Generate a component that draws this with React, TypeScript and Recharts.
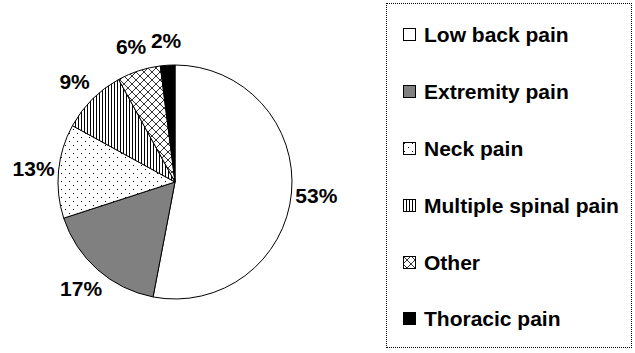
import { PieChart, Pie, Cell, Legend } from "recharts";

const names = [
  "Low back pain",
  "Extremity pain",
  "Neck pain",
  "Multiple spinal pain",
  "Other",
  "Thoracic pain",
];
const values = [53, 17, 13, 9, 6, 2];
const fills = [
  "#ffffff",
  "#808080",
  "url(#dots)",
  "url(#vlines)",
  "url(#cross)",
  "#000000",
];

const data = names.map((name, i) => ({ name, value: values[i] }));

const RADIAN = Math.PI / 180;
const font = "'Liberation Sans', Arial, sans-serif";

const renderLabel = (props: any) => {
  const { cx, cy, midAngle, value } = props;
  const r = 142;
  const x = cx + r * Math.cos(-midAngle * RADIAN);
  const y = cy + r * Math.sin(-midAngle * RADIAN);
  return (
    <text
      x={x}
      y={y}
      textAnchor="middle"
      dominantBaseline="central"
      fontFamily={font}
      fontWeight="bold"
      fontSize={21}
      fill="#000"
    >
      {`${value}%`}
    </text>
  );
};

const renderLegend = () => (
  <div
    style={{
      width: 246,
      height: 345,
      border: "1px dotted #000",
      boxSizing: "border-box",
      paddingTop: 3,
    }}
  >
    {names.map((name, i) => (
      <div
        key={name}
        style={{
          display: "flex",
          alignItems: "center",
          height: 56.8,
          marginLeft: 16,
          fontFamily: font,
          fontWeight: "bold",
          fontSize: 21,
          lineHeight: "24px",
          color: "#000",
        }}
      >
        <svg width={14} height={14} style={{ marginRight: 7, flex: "none" }}>
          <rect x={0.5} y={0.5} width={12} height={12} fill={fills[i]} stroke="#000" />
        </svg>
        <span>{name}</span>
      </div>
    ))}
  </div>
);

export default function App() {
  return (
    <div style={{ position: "absolute", left: 0, top: 0, background: "#fff" }}>
      <PieChart width={635} height={353} margin={{ top: 0, right: 0, bottom: 0, left: 0 }}>
        <defs>
          <pattern id="dots" width={8} height={8} patternUnits="userSpaceOnUse">
            <rect width={8} height={8} fill="#fff" />
            <rect x={1} y={1} width={1} height={1} fill="#000" />
            <rect x={5} y={5} width={1} height={1} fill="#000" />
          </pattern>
          <pattern id="vlines" width={3} height={3} patternUnits="userSpaceOnUse">
            <rect width={3} height={3} fill="#fff" />
            <rect x={0} y={0} width={1} height={3} fill="#000" />
          </pattern>
          <pattern id="cross" width={8} height={8} patternUnits="userSpaceOnUse">
            <rect width={8} height={8} fill="#fff" />
            <path d="M0,0 L8,8 M8,0 L0,8" stroke="#000" strokeWidth={0.8} />
          </pattern>
        </defs>
        <Pie
          data={data}
          dataKey="value"
          nameKey="name"
          cx={175}
          cy={182}
          outerRadius={117}
          startAngle={90}
          endAngle={-270}
          stroke="#000"
          strokeWidth={1}
          labelLine={false}
          label={renderLabel}
          isAnimationActive={false}
        >
          {data.map((d, i) => (
            <Cell key={d.name} fill={fills[i]} />
          ))}
        </Pie>
        <Legend
          content={renderLegend}
          wrapperStyle={{ position: "absolute", left: 386, top: 3, width: 246, height: 345 }}
        />
      </PieChart>
    </div>
  );
}
